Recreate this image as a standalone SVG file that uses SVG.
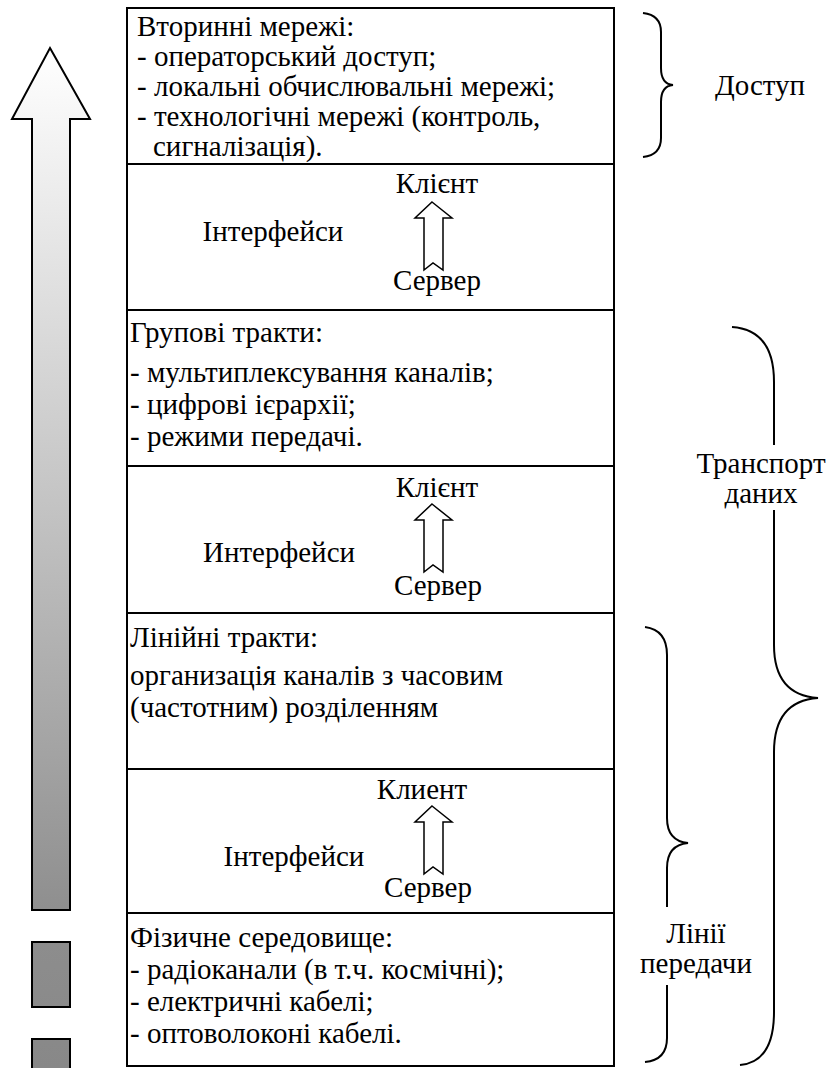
<svg xmlns="http://www.w3.org/2000/svg" width="826" height="1068" viewBox="0 0 826 1068">
<style>
.c{text-anchor:middle}
.box{fill:#fff;stroke:#000;stroke-width:2}
.br{fill:none;stroke:#000;stroke-width:2}
.sa{fill:#fff;stroke:#000;stroke-width:1.5;stroke-linejoin:miter}
.gr{stroke:#000;stroke-width:2}
</style>
<defs>
<linearGradient id="g" gradientUnits="userSpaceOnUse" x1="0" y1="48" x2="0" y2="1068">
<stop offset="0" stop-color="#ffffff"/>
<stop offset="0.85" stop-color="#8e8e8e"/>
<stop offset="1" stop-color="#888888"/>
</linearGradient>
</defs>
<g id="bigArrow">
<path class="gr" fill="url(#g)" d="M50,48 L90,119 L70,119 L70,910 L32,910 L32,119 L12,119 Z"/>
<rect class="gr" fill="url(#g)" x="32" y="942" width="38" height="65"/>
<rect class="gr" fill="url(#g)" x="32" y="1039" width="38" height="40"/>
</g>
<g id="box1" font-family="'Liberation Serif', serif" font-size="29">
<rect class="box" x="127" y="8" width="487" height="156"/>
<text x="137" y="36">Вторинні мережі:</text>
<text x="137" y="66">- операторський доступ;</text>
<text x="137" y="96">- локальні обчислювальні мережі;</text>
<text x="137" y="126">- технологічні мережі (контроль,</text>
<text x="153" y="156">сигналізація).</text>
</g>
<g id="box2" font-family="'Liberation Serif', serif" font-size="29">
<rect class="box" x="127" y="164" width="487" height="146"/>
<text class="c" x="437" y="193">Клієнт</text>
<path class="sa" d="M432,202 L452,218 L443,218 L443,270 L433,263 L424,270 L424,218 L415,218 Z"/>
<text class="c" x="273" y="241">Інтерфейси</text>
<text class="c" x="437" y="290">Сервер</text>
</g>
<g id="box3" font-family="'Liberation Serif', serif" font-size="29">
<rect class="box" x="127" y="310" width="487" height="156"/>
<text x="130" y="342">Групові тракти:</text>
<text x="130" y="382">- мультиплексування каналів;</text>
<text x="130" y="414">- цифрові ієрархії;</text>
<text x="130" y="446">- режими передачі.</text>
</g>
<g id="box4" font-family="'Liberation Serif', serif" font-size="29">
<rect class="box" x="127" y="466" width="487" height="147"/>
<text class="c" x="437" y="497">Клієнт</text>
<path class="sa" d="M432,504 L452,520 L443,520 L443,572 L433,565 L424,572 L424,520 L415,520 Z"/>
<text class="c" x="279" y="562">Интерфейси</text>
<text class="c" x="438" y="595">Сервер</text>
</g>
<g id="box5" font-family="'Liberation Serif', serif" font-size="29">
<rect class="box" x="127" y="613" width="487" height="156"/>
<text x="130" y="647">Лінійні тракти:</text>
<text x="130" y="685">организація каналів з часовим</text>
<text x="130" y="717">(частотним) розділенням</text>
</g>
<g id="box6" font-family="'Liberation Serif', serif" font-size="29">
<rect class="box" x="127" y="769" width="487" height="144"/>
<text class="c" x="422" y="799">Клиент</text>
<path class="sa" d="M432,806 L452,822 L443,822 L443,874 L433,867 L424,874 L424,822 L415,822 Z"/>
<text class="c" x="294" y="866">Інтерфейси</text>
<text class="c" x="428" y="897">Сервер</text>
</g>
<g id="box7" font-family="'Liberation Serif', serif" font-size="29">
<rect class="box" x="127" y="913" width="487" height="153"/>
<text x="130" y="947">Фізичне середовище:</text>
<text x="130" y="979">- радіоканали (в т.ч. космічні);</text>
<text x="130" y="1011">- електричні кабелі;</text>
<text x="130" y="1043">- оптоволоконі кабелі.</text>
</g>
<g id="connectors">
<path class="br" d="M643,13 Q661,15 661,32 L661,68 Q661,84 673,85 Q661,86 661,102 L661,138 Q661,155 643,157"/>
<path class="br" d="M732,327 Q774,330 774,382 L774,445 M774,510 L774,645 Q774,695 818,698 Q774,701 774,752 L774,1012 Q774,1062 740,1065"/>
<path class="br" d="M645,627 Q667,630 667,655 L667,818 Q667,841 688,843 Q667,845 667,868 L667,907 M667,985 L667,1038 Q667,1060 645,1062"/>
</g>
<g id="labels" font-family="'Liberation Serif', serif" font-size="29">
<text class="c" x="760" y="95">Доступ</text>
<text class="c" x="761" y="473">Транспорт</text>
<text class="c" x="761" y="503">даних</text>
<text class="c" x="696" y="943">Лінії</text>
<text class="c" x="696" y="973">передачи</text>
</g>
</svg>
